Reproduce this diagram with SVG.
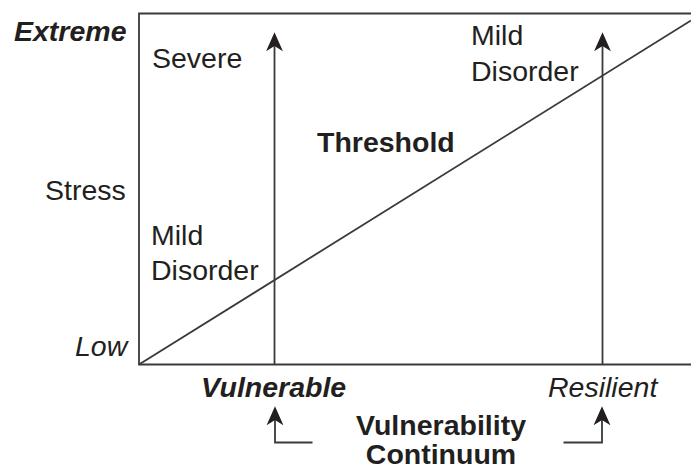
<svg xmlns="http://www.w3.org/2000/svg" width="691" height="474" viewBox="0 0 691 474">
  <style>
    .t { font-family: "Liberation Sans", Arial, sans-serif; fill: #231f20; font-size: 28.5px; }
    .b { font-weight: bold; }
    .i { font-style: italic; }
    .ln { stroke: #3a3a3a; stroke-width: 1.8; fill: none; }
  </style>
  <defs>
    <!-- notched arrowhead; reference point sits on the notch so the shaft ends there -->
    <marker id="arrow" markerUnits="userSpaceOnUse" markerWidth="20" markerHeight="20" viewBox="0 -9 19 18" refX="5" refY="0" orient="auto">
      <path d="M18,0 L0,-8 L5,0 L0,8 Z" fill="#231f20"/>
    </marker>
  </defs>
  <rect width="691" height="474" fill="#ffffff"/>

  <!-- plot frame (open to the right) -->
  <g id="frame">
    <path class="ln" d="M691,13.5 H139 V364.5 H691"/>
  </g>

  <!-- threshold line and arrows -->
  <g id="connectors">
    <line class="ln" x1="139" y1="364.5" x2="691" y2="20.5"/>
    <line class="ln" x1="274.5" y1="364.5" x2="274.5" y2="46" marker-end="url(#arrow)"/>
    <line class="ln" x1="602.5" y1="364.5" x2="602.5" y2="46" marker-end="url(#arrow)"/>
    <path class="ln" d="M312.5,442.5 H275 V420" marker-end="url(#arrow)"/>
    <path class="ln" d="M563.5,442.5 H602 V420" marker-end="url(#arrow)"/>
  </g>

  <g id="axis-y">
    <text class="t b i" x="14" y="41">Extreme</text>
    <text class="t" x="45" y="200">Stress</text>
    <text class="t i" x="75" y="356">Low</text>
  </g>

  <g id="label-severe">
    <text class="t" x="152" y="68">Severe</text>
  </g>

  <g id="label-mild-left">
    <text class="t" x="151" y="245">Mild</text>
    <text class="t" x="151" y="280">Disorder</text>
  </g>

  <g id="label-mild-right">
    <text class="t" x="471" y="45">Mild</text>
    <text class="t" x="471" y="81">Disorder</text>
  </g>

  <g id="label-threshold">
    <text class="t b" x="317" y="152" font-size="29">Threshold</text>
  </g>

  <g id="axis-x">
    <text class="t b i" x="201" y="397">Vulnerable</text>
    <text class="t i" x="548" y="397">Resilient</text>
    <text class="t b" x="441" y="435" text-anchor="middle">Vulnerability</text>
    <text class="t b" x="441" y="464" text-anchor="middle">Continuum</text>
  </g>
</svg>
